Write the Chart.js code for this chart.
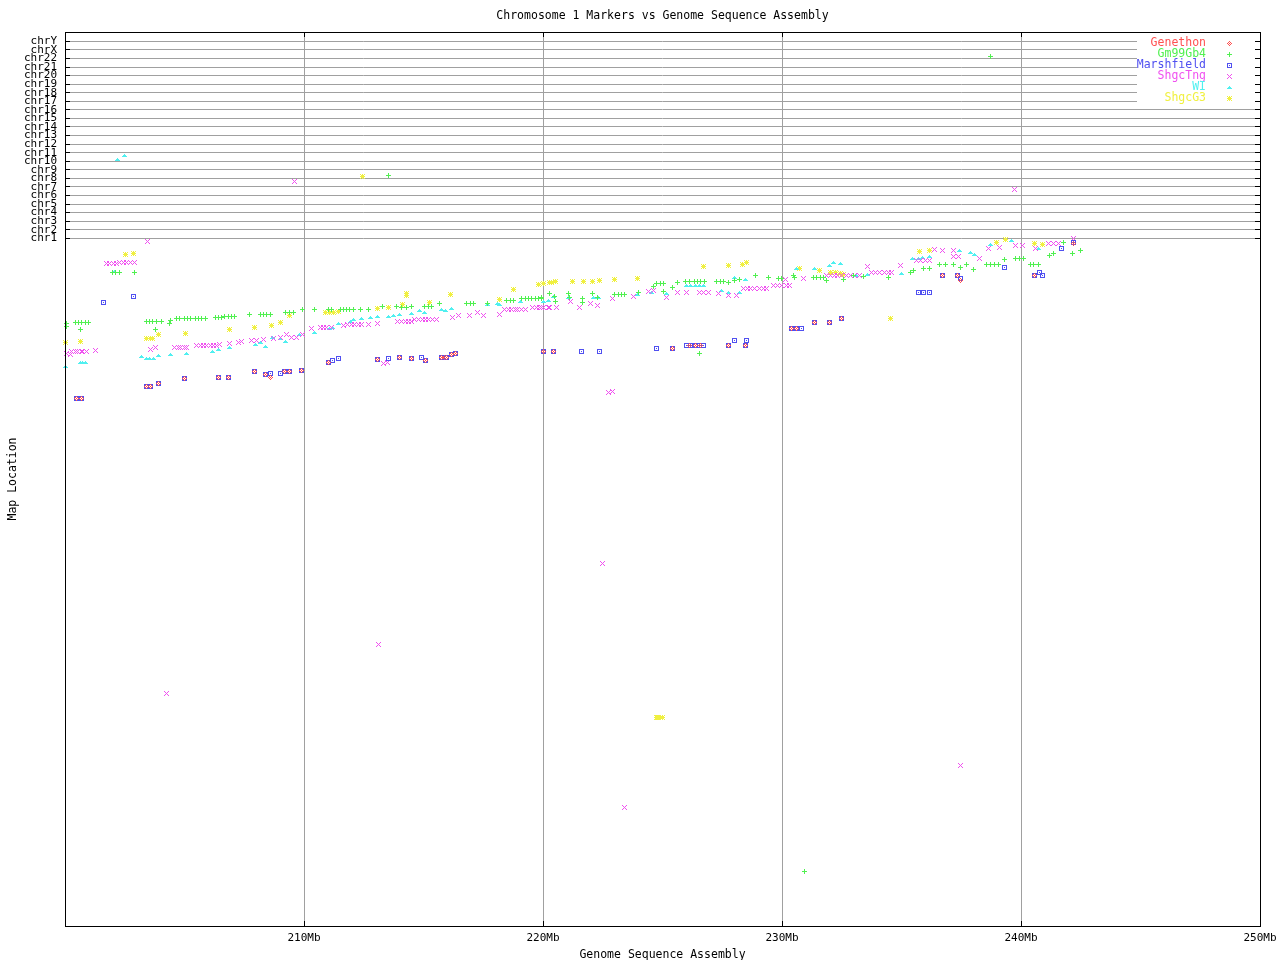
<!DOCTYPE html>
<html>
<head>
<meta charset="utf-8">
<title>Chromosome 1 Markers vs Genome Sequence Assembly</title>
<script src="https://cdn.jsdelivr.net/npm/chart.js@4.4.1/dist/chart.umd.min.js"></script>
<style>
  html, body { margin: 0; padding: 0; background: #fff; }
  #wrap { width: 1280px; height: 960px; }
</style>
</head>
<body>
<div id="wrap"><canvas id="chart"></canvas></div>
<script>
/* global Chart */
(function () {
    'use strict';

    var MONO = '"DejaVu Sans Mono", "Liberation Mono", monospace';

    // ---- data ------------------------------------------------------------
    // x: position in the sequence assembly (Mb), y: map location (axis units)
    var seriesNames = ['Genethon', 'Gm99Gb4', 'Marshfield', 'ShgcTng', 'WI', 'ShgcG3'];
    var seriesColors = ['#ff5050', '#50f050', '#5050f0', '#f050f0', '#50f0f0', '#f0f040'];
    var chrLabels = ['chr1', 'chr2', 'chr3', 'chr4', 'chr5', 'chr6', 'chr7', 'chr8', 'chr9', 'chr10',
        'chr11', 'chr12', 'chr13', 'chr14', 'chr15', 'chr16', 'chr17', 'chr18', 'chr19', 'chr20',
        'chr21', 'chr22', 'chrX', 'chrY'];
    var CHR1_LOC = 687.7;   // map location of the chr1 band
    var CHR_STEP = 8.565;   // spacing between chromosome bands
    var xTickStep = 10;

    var genethonPts = [
        [200.49, 528], [200.70, 528], [203.39, 540], [203.56, 540], [203.90, 543], [205.02, 548],
        [206.41, 549], [206.86, 549], [207.92, 555], [208.40, 552], [208.60, 549], [209.18, 555],
        [209.41, 555], [209.89, 556], [211.02, 564], [213.07, 567], [213.99, 569], [214.49, 568],
        [215.07, 566], [215.76, 569], [215.87, 569], [215.97, 569], [216.16, 572], [216.33, 573],
        [220.01, 575], [220.43, 575], [225.43, 578], [226.15, 581], [226.36, 581], [226.57, 581],
        [227.75, 581], [228.48, 581], [230.41, 598], [230.61, 598], [231.35, 604], [231.98, 604],
        [232.48, 608], [236.71, 651], [237.33, 651], [237.48, 646], [240.56, 651], [242.19, 683]
    ];

    var gm99Pts = [
        [200.07, 603], [200.07, 600], [200.42, 604], [200.56, 604], [200.70, 604], [200.84, 604],
        [200.97, 604], [200.66, 597], [202.00, 654], [202.13, 654], [202.27, 654], [202.89, 654],
        [203.39, 605], [203.53, 605], [203.67, 605], [203.81, 605], [204.02, 605], [203.79, 597],
        [204.42, 606], [204.39, 603], [204.67, 608], [204.81, 608], [204.98, 608], [205.13, 608],
        [205.27, 608], [205.44, 608], [205.59, 608], [205.73, 608], [205.86, 608], [206.28, 609],
        [206.41, 609], [206.55, 609], [206.69, 610], [206.83, 610], [206.97, 610], [207.11, 610],
        [207.74, 612], [208.16, 612], [208.30, 612], [208.44, 612], [208.60, 612], [209.21, 614],
        [209.41, 614], [209.55, 614], [209.93, 617], [210.43, 617], [211.02, 617], [211.16, 617],
        [211.51, 617], [211.65, 617], [211.79, 617], [211.92, 617], [212.06, 617], [212.37, 617],
        [212.69, 617], [213.28, 620], [213.88, 620], [214.09, 619], [214.30, 619], [214.48, 620],
        [215.06, 620], [215.20, 620], [215.34, 620], [215.69, 623], [216.81, 623], [216.95, 623],
        [217.08, 623], [217.68, 623], [218.48, 626], [218.62, 626], [218.76, 626], [219.11, 628],
        [219.25, 628], [219.39, 628], [219.53, 628], [219.67, 628], [219.80, 628], [219.95, 628],
        [220.26, 633], [219.95, 629], [220.50, 630], [220.54, 625], [221.06, 633], [221.10, 629],
        [221.66, 628], [221.66, 624], [222.06, 633], [222.27, 629], [223.01, 632], [223.15, 632],
        [223.29, 632], [223.43, 632], [223.99, 634], [224.62, 640], [224.76, 643], [224.90, 643],
        [225.03, 643], [225.03, 635], [225.43, 639], [225.62, 644], [225.98, 645], [226.15, 645],
        [226.32, 645], [226.48, 645], [226.61, 645], [226.74, 645], [227.27, 645], [227.41, 645],
        [227.54, 645], [227.75, 644], [228.03, 646], [228.21, 647], [228.91, 651], [229.43, 649],
        [229.85, 648], [229.99, 648], [230.47, 651], [230.54, 649], [231.31, 649], [231.45, 649],
        [231.59, 649], [231.73, 649], [231.87, 646], [232.56, 647], [232.98, 651], [233.40, 650],
        [234.45, 649], [235.36, 654], [235.49, 656], [235.91, 658], [236.16, 658], [236.58, 662],
        [236.86, 662], [237.17, 662], [237.45, 659], [237.73, 662], [238.00, 657], [238.56, 662],
        [238.72, 662], [238.89, 662], [239.05, 662], [239.33, 667], [239.75, 668], [239.92, 668],
        [240.10, 668], [240.38, 662], [240.54, 662], [240.72, 662], [241.21, 671], [241.35, 673],
        [241.77, 684], [242.16, 673], [242.50, 676],
        [226.54, 573], [230.96, 55], [238.72, 870], [213.53, 751]
    ];

    var marshPts = [
        [200.49, 528], [200.70, 528], [201.60, 624], [202.86, 630], [203.39, 540], [203.56, 540],
        [203.90, 543], [205.02, 548], [206.41, 549], [206.86, 549], [207.92, 555], [208.40, 552],
        [208.59, 553], [209.01, 553], [209.18, 555], [209.41, 555], [209.89, 556], [211.02, 564],
        [211.18, 566], [211.44, 568], [213.07, 567], [213.53, 568], [213.99, 569], [214.49, 568],
        [214.91, 569], [215.07, 566], [215.76, 569], [215.97, 569], [216.16, 572], [216.33, 573],
        [220.01, 575], [220.43, 575], [221.62, 575], [222.36, 575], [224.74, 578], [225.43, 578],
        [226.01, 581], [226.19, 581], [226.36, 581], [226.54, 581], [226.71, 581], [227.75, 581],
        [228.03, 586], [228.52, 586], [228.48, 581], [230.41, 598], [230.61, 598], [230.82, 598],
        [231.35, 604], [231.98, 604], [232.48, 608], [235.70, 634], [235.94, 634], [236.19, 634],
        [236.71, 651], [237.33, 651], [237.48, 648], [239.30, 659], [240.56, 651], [240.76, 654],
        [240.91, 651], [241.70, 678], [242.19, 684]
    ];

    var shgcTngPts = [
        [203.46, 685], [201.74, 663], [201.88, 663], [202.02, 663], [202.16, 663], [202.30, 664],
        [202.44, 664], [202.58, 664], [202.72, 664], [202.89, 664],
        [200.07, 573], [200.21, 572], [200.29, 575], [200.42, 575], [200.54, 575], [200.67, 575],
        [200.75, 575], [200.91, 575], [201.26, 576], [203.59, 577], [203.77, 579], [204.60, 579],
        [204.73, 579], [204.85, 579], [204.98, 579], [205.09, 579], [205.51, 581], [205.65, 581],
        [205.79, 581], [205.93, 581], [206.07, 581], [206.21, 581], [206.35, 581], [206.46, 582],
        [206.87, 583], [207.25, 584], [207.39, 585], [207.81, 586], [208.02, 586], [208.30, 587],
        [208.72, 588], [209.00, 589], [209.28, 592], [209.46, 589], [209.69, 589], [209.93, 592],
        [210.32, 598], [210.67, 599], [210.81, 599], [210.95, 599], [211.16, 599], [211.64, 601],
        [211.84, 602], [211.99, 602], [212.13, 602], [212.28, 602], [212.41, 602], [212.69, 602],
        [213.07, 603], [213.93, 605], [214.08, 605], [214.23, 605], [214.37, 605], [214.50, 605],
        [214.64, 607], [214.79, 607], [214.94, 607], [215.08, 607], [215.23, 607], [215.38, 607],
        [215.55, 607], [216.22, 609], [216.46, 611], [216.92, 611], [217.25, 614], [217.50, 611],
        [218.20, 612], [218.41, 617], [218.55, 617], [218.70, 617], [218.83, 617], [218.95, 617],
        [219.10, 617], [219.25, 617], [219.58, 619], [219.72, 619], [219.87, 619], [220.04, 619],
        [220.21, 619], [219.95, 619], [220.29, 619], [220.57, 619], [221.13, 625], [221.52, 619],
        [221.97, 623], [222.27, 621], [222.92, 628], [223.78, 630], [224.41, 635], [224.62, 636],
        [225.15, 629], [225.62, 634], [226.01, 634], [226.54, 634], [226.73, 634], [226.92, 634],
        [227.34, 633], [227.75, 631], [228.08, 631], [228.38, 638], [228.54, 638], [228.70, 638],
        [228.87, 638], [229.04, 638], [229.21, 638], [229.36, 638], [229.64, 641], [229.81, 641],
        [229.98, 641], [230.17, 641], [230.33, 641], [230.13, 647], [230.89, 648], [231.87, 651],
        [232.01, 651], [232.18, 651], [232.34, 651], [232.51, 651], [232.68, 651], [232.85, 651],
        [233.05, 651], [233.26, 651], [233.57, 660], [233.75, 654], [233.93, 654], [234.10, 654],
        [234.27, 654], [234.44, 654], [234.59, 654], [234.94, 661], [235.63, 666], [235.81, 666],
        [236.00, 666], [236.19, 666], [236.40, 677], [236.72, 676], [237.17, 676], [237.17, 670],
        [237.38, 670], [238.26, 668], [238.63, 678], [239.12, 679], [239.75, 681], [240.07, 681],
        [240.59, 678], [241.14, 683], [241.35, 683], [241.56, 683], [242.19, 688],
        [209.59, 745], [239.72, 737], [204.23, 233], [213.10, 282], [222.47, 363], [223.39, 119],
        [237.45, 161], [222.72, 534], [222.89, 535], [213.32, 563], [213.49, 564]
    ];

    var wiPts = [
        [200.00, 560], [200.63, 564], [200.73, 564], [200.84, 564], [202.09, 655], [203.18, 570],
        [203.39, 568], [203.54, 568], [203.69, 568], [203.90, 571], [204.42, 572], [205.09, 573],
        [206.16, 575], [206.41, 577], [206.87, 579], [207.95, 582], [208.16, 584], [208.40, 580],
        [208.69, 589], [209.02, 588], [209.21, 585], [209.83, 592], [210.42, 594], [211.06, 598],
        [211.18, 599], [211.44, 603], [211.95, 605], [212.06, 607], [212.41, 608], [212.80, 609],
        [213.07, 610], [213.53, 610], [213.74, 611], [213.99, 612], [214.50, 613], [214.82, 616],
        [215.06, 614], [215.76, 617], [215.90, 616], [216.18, 618], [217.67, 622], [218.10, 623],
        [218.20, 622], [219.04, 625], [220.01, 625], [220.22, 626], [220.43, 630], [221.06, 629],
        [222.10, 629], [222.31, 629], [223.95, 632], [224.55, 634], [225.15, 633], [226.01, 641],
        [226.18, 641], [226.36, 641], [226.53, 641], [226.71, 641], [227.48, 636], [227.75, 634],
        [228.03, 649], [228.21, 634], [228.48, 647], [230.61, 658], [231.38, 658], [231.98, 661],
        [232.15, 664], [232.46, 663], [233.12, 651], [233.57, 652], [235.01, 653], [235.47, 668],
        [235.70, 668], [235.89, 669], [236.16, 670], [237.41, 676], [237.90, 674], [238.05, 672],
        [238.73, 682], [239.61, 686], [240.72, 678],
        [202.19, 767], [202.48, 771]
    ];

    var shgcG3Pts = [
        [202.52, 672], [202.86, 673], [200.04, 584], [200.66, 585], [203.43, 588], [203.56, 588],
        [203.68, 588], [203.90, 592], [205.06, 593], [206.87, 597], [207.92, 599], [208.62, 601],
        [209.00, 604], [209.41, 611], [210.88, 614], [211.05, 614], [211.23, 614], [211.44, 615],
        [213.07, 618], [213.53, 619], [214.11, 622], [214.27, 633], [214.27, 631], [215.27, 624],
        [216.15, 632], [218.20, 627], [218.76, 637], [219.80, 642], [220.01, 643], [220.29, 644],
        [220.36, 644], [220.54, 645], [221.23, 645], [221.69, 645], [222.06, 645], [222.36, 646],
        [222.98, 647], [223.95, 648], [226.71, 660], [227.75, 661], [228.34, 662], [228.52, 664],
        [230.72, 658], [231.56, 656], [232.01, 654], [232.22, 654], [232.43, 653], [232.56, 652],
        [234.56, 608], [235.77, 675], [236.16, 676], [238.98, 684], [239.34, 687], [240.56, 683],
        [240.91, 682],
        [212.44, 750], [224.73, 209], [224.81, 209], [224.90, 209], [224.98, 209]
    ];

    var seriesPts = [genethonPts, gm99Pts, marshPts, shgcTngPts, wiPts, shgcG3Pts];

    // ---- pixel markers -----------------------------------------------------
    var markerShapes = [
        ['..#..', '.#.#.', '#.#.#', '.#.#.', '..#..'],   // diamond
        ['..#..', '..#..', '#####', '..#..', '..#..'],   // plus
        ['#####', '#...#', '#.#.#', '#...#', '#####'],   // box with dot
        ['#...#', '.#.#.', '..#..', '.#.#.', '#...#'],   // cross
        ['.....', '..#..', '.###.', '#####', '.....'],   // triangle
        ['#.#.#', '.###.', '#####', '.###.', '#.#.#']    // star
    ];

    function makeMarker(rows, color) {
        var c = document.createElement('canvas');
        c.width = rows[0].length;
        c.height = rows.length;
        var g = c.getContext('2d');
        g.fillStyle = color;
        rows.forEach(function (row, y) {
            for (var x = 0; x < row.length; x++) {
                if (row[x] === '#') { g.fillRect(x, y, 1, 1); }
            }
        });
        return c;
    }

    var markers = markerShapes.map(function (s, i) { return makeMarker(s, seriesColors[i]); });

    var datasets = seriesNames.map(function (name, i) {
        return {
            label: name,
            data: seriesPts[i].map(function (p) { return { x: p[0], y: p[1] }; }),
            pointStyle: markers[i],
            pointRadius: 3,
            backgroundColor: seriesColors[i],
            borderColor: seriesColors[i],
            showLine: false,
            clip: false
        };
    });

    // frame, inward ticks and the boxed legend in the top right corner
    var framePlugin = {
        id: 'frameAndLegend',
        beforeDatasetsDraw: function (chart) {
            chart.ctx.imageSmoothingEnabled = false;
        },
        afterDraw: function (chart) {
            var ctx = chart.ctx;
            var a = chart.chartArea;
            var al = function (v) { return Math.round(v - 0.5) + 0.5; };
            ctx.save();

            // legend box
            var boxL = a.right - 123, boxT = a.top + 4;
            ctx.fillStyle = '#fff';
            ctx.fillRect(boxL, boxT, a.right - boxL, 68);

            ctx.strokeStyle = '#000';
            ctx.lineWidth = 1;
            ctx.beginPath();
            chart.scales.y.ticks.forEach(function (t) {
                var py = al(chart.scales.y.getPixelForValue(t.value));
                ctx.moveTo(a.left, py); ctx.lineTo(a.left + 5, py);
                ctx.moveTo(a.right - 5, py); ctx.lineTo(a.right, py);
            });
            chart.scales.x.ticks.forEach(function (t) {
                var px = al(chart.scales.x.getPixelForValue(t.value));
                ctx.moveTo(px, a.bottom); ctx.lineTo(px, a.bottom - 5);
                ctx.moveTo(px, a.top); ctx.lineTo(px, a.top + 5);
            });
            ctx.stroke();
            ctx.strokeRect(al(a.left), al(a.top), Math.round(a.right - a.left), Math.round(a.bottom - a.top));

            ctx.font = '11.5px ' + MONO;
            ctx.textAlign = 'right';
            ctx.textBaseline = 'middle';
            chart.data.datasets.forEach(function (ds, i) {
                var cy = boxT + 7 + i * 11;
                ctx.fillStyle = ds.borderColor;
                ctx.fillText(ds.label, a.right - 54, cy);
                var m = ds.pointStyle;
                ctx.drawImage(m, Math.round(a.right - 31 - m.width / 2), Math.round(cy - m.height / 2));
            });
            ctx.restore();
        }
    };

    new Chart(document.getElementById('chart'), {
        type: 'scatter',
        data: { datasets: datasets },
        options: {
            responsive: true,
            maintainAspectRatio: false,
            animation: false,
            events: [],
            layout: { padding: { left: 0, right: 20, top: 0, bottom: 0 } },
            plugins: {
                legend: { display: false },
                tooltip: { enabled: false },
                title: {
                    display: true,
                    fullSize: false,
                    text: 'Chromosome 1 Markers vs Genome Sequence Assembly',
                    color: '#000',
                    font: { family: MONO, size: 11.5, weight: 'normal', lineHeight: 1.2 },
                    padding: { top: 9, bottom: 9.2 }
                }
            },
            scales: {
                x: {
                    type: 'linear',
                    min: 200,
                    max: 250,
                    afterFit: function (s) { s.height = 34; s.paddingRight = 0; s.paddingLeft = 0; },
                    ticks: {
                        stepSize: xTickStep,
                        padding: 6,
                        color: '#000',
                        maxRotation: 0,
                        font: { family: MONO, size: 11 },
                        callback: function (v) { return v === 200 ? '' : v + 'Mb'; }
                    },
                    grid: { color: '#a0a0a0', drawTicks: false },
                    border: { display: false },
                    title: {
                        display: true,
                        text: 'Genome Sequence Assembly',
                        color: '#000',
                        font: { family: MONO, size: 11.5 },
                        padding: { top: 0, bottom: -2 }
                    }
                },
                y: {
                    type: 'linear',
                    min: 0,
                    max: 894,
                    afterBuildTicks: function (s) {
                        s.ticks = chrLabels.map(function (_, i) { return { value: CHR1_LOC + i * CHR_STEP }; });
                    },
                    afterFit: function (s) { s.width = 65; },
                    ticks: {
                        autoSkip: false,
                        padding: 8,
                        color: '#000',
                        font: { family: MONO, size: 11 },
                        callback: function (v, i) { return chrLabels[i]; }
                    },
                    grid: { color: '#a0a0a0', drawTicks: false },
                    border: { display: false },
                    title: {
                        display: true,
                        text: 'Map Location',
                        color: '#000',
                        font: { family: MONO, size: 11.5 },
                        padding: { top: 6, bottom: 0 }
                    }
                }
            }
        },
        plugins: [framePlugin]
    });
})();
</script>
</body>
</html>
